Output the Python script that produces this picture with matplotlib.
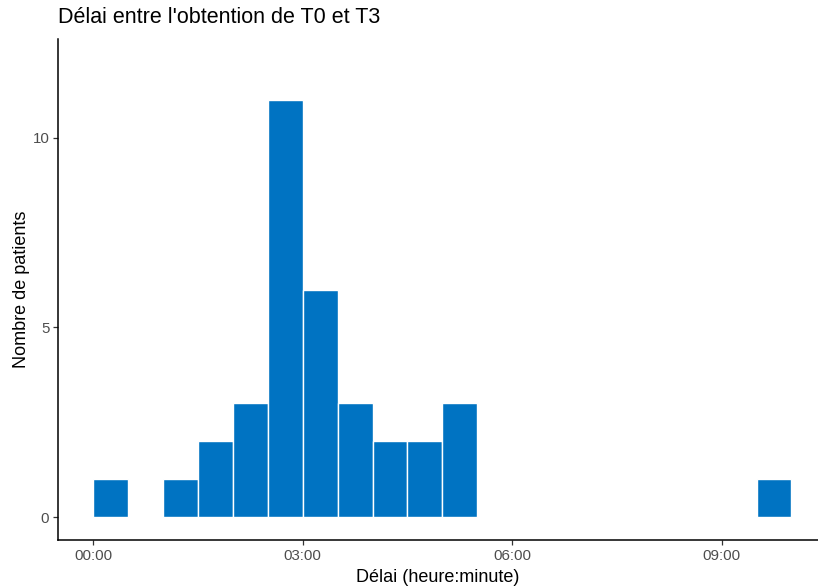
import matplotlib
matplotlib.use("Agg")
import matplotlib.pyplot as plt
from matplotlib.ticker import FuncFormatter

plt.rcParams['font.family'] = ['Liberation Sans', 'DejaVu Sans']

# histogram bins (start hour, width 30 min) and counts
bin_start = [0.0, 1.0, 1.5, 2.0, 2.5, 3.0, 3.5, 4.0, 4.5, 5.0, 9.5]
counts = [1, 1, 2, 3, 11, 6, 3, 2, 2, 3, 1]
bin_width = 0.5
xticks = [0, 3, 6, 9]
yticks = [0, 5, 10]

def hhmm(x, pos):
    h = int(x)
    m = int(round((x - h) * 60))
    return "%02d:%02d" % (h, m)

fig = plt.figure(figsize=(8.18, 5.88), dpi=100)
ax = fig.add_axes([0.0713, 0.0816, 0.9287, 0.852])
ax.bar(bin_start, counts, width=bin_width, align='edge',
       color='#0073C2', edgecolor='white', linewidth=1.0)

ax.set_xlim(-0.5, 10.38)
ax.set_ylim(-0.6, 12.6)
ax.set_xticks(xticks)
ax.set_yticks(yticks)
ax.xaxis.set_major_formatter(FuncFormatter(hhmm))

for s in ['top', 'right']:
    ax.spines[s].set_visible(False)
for s in ['left', 'bottom']:
    ax.spines[s].set_linewidth(1.1)
    ax.spines[s].set_color('black')
ax.tick_params(length=3.5, width=0.9, color='#333333', labelcolor='#4D4D4D',
               labelsize=10.8, pad=3)

ax.set_xlabel("Délai (heure:minute)", fontsize=13, labelpad=4)
ax.set_ylabel("Nombre de patients", fontsize=13, labelpad=2)
fig.text(0.0713, 0.988, "Délai entre l'obtention de T0 et T3", fontsize=15.5,
         ha='left', va='top')

fig.savefig("out.png", dpi=100)
